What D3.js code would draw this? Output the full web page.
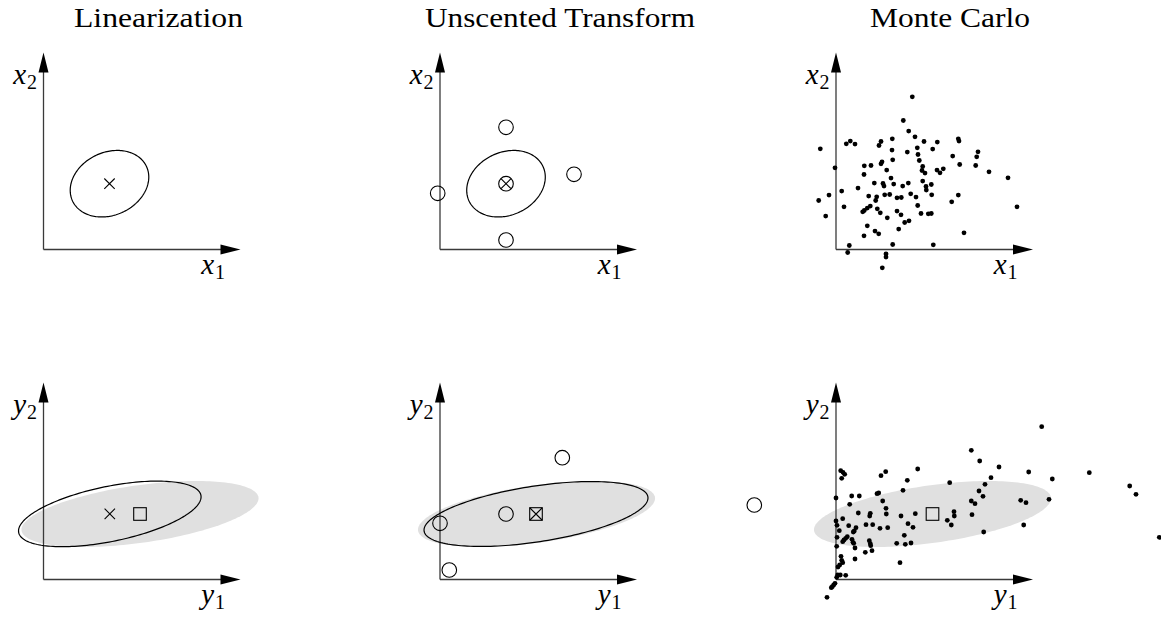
<!DOCTYPE html>
<html>
<head>
<meta charset="utf-8">
<script src="https://cdn.jsdelivr.net/npm/d3@7"></script>
<style>
  html, body { margin: 0; padding: 0; background: #fff; }
  svg { display: block; }
</style>
</head>
<body>
<svg id="fig" width="1161" height="617"></svg>
<script>
// ---- figure content -------------------------------------------------------
const titles = ["Linearization", "Unscented Transform", "Monte Carlo"];
const inputLabels = [["x", "1"], ["x", "2"]];
const outputLabels = [["y", "1"], ["y", "2"]];

// prior distribution of x: mean and covariance ellipse [semi-axis 1, semi-axis 2, rotation in degrees]
const priorMean = [66, 65.8];
const priorEllipse = [40.8, 31.4, 25];

// sigma points before and after the transform (first entry = central point)
const sigmaIn = [[66, 65.8], [66, 122.2], [134, 75.2], [-2.3, 56.2], [66, 9.5]];
const sigmaOut = [[66, 65.5], [122.3, 121.8], [314.3, 74.5], [0, 56.2], [9.3, 9.5]];

// propagated estimates of y
const linMean = [66.3, 65.6];
const linEllipse = [93, 27.5, 11.6];
const utMean = [96, 65.5];
const utEllipse = [113.2, 27.9, 8.7];
const mcMean = [96.5, 65.5];
const mcEllipse = [119.6, 28.8, 8.0];

// Monte Carlo samples of x
const mcSamplesIn = [
  [76.3,152.7],[67.3,129],[72.7,118.4],[79,112.7],[56.3,110.7],[45,108],[43,104],[14.3,108.4],[10.3,105.7],[19,105.4],
  [-15.7,100.7],[56,99.4],[71.3,97.4],[81.3,101.7],[82,95],[83.3,89],[56.7,89.7],[46,87.7],[45,85.7],[28.3,83.7],
  [35,84],[-1,81.7],[50.7,79.4],[28,75],[55,71.4],[86.7,68.4],[38.3,66.4],[47,66],[48,63.4],[57.7,65.4],
  [66.7,63.4],[72.3,66.4],[22,61.4],[5.7,58.4],[-7,54.4],[-17.3,49],[32.7,53.4],[40.7,52.7],[48.7,54.7],[53.7,55],
  [39.7,49],[61,51.7],[65.3,52],[74.7,55.7],[80,52.4],[8,42.7],[34.3,43.4],[31.3,41.4],[28.3,39],[26.7,37.7],
  [41.3,40.7],[44.3,36.7],[61,38.4],[65,34.7],[81.7,44],[85,36],[-10.3,33.4],[51.3,31.7],[73,28.7],[68.7,27],
  [31.3,23.7],[62.7,20.4],[39,18.4],[42.7,15.7],[28,13.7],[56.7,5],[13.3,4],[11.7,-3],[50,-4.3],[50,-7.6],
  [46.3,-18.3],[88,108],[101.3,107.4],[96.7,100.4],[122.3,110.7],[123,108.4],[142,97.7],[140.7,92.7],[116.7,93.4],[123.7,85],
  [139.7,84],[86.7,83],[86,79],[89,76.4],[101,79.4],[104,76.7],[107.3,80.7],[153,77.7],[172,71.7],[90,63],
  [95.3,65],[90.3,59.4],[95.7,54.7],[122.3,54.4],[115.7,47.7],[92.3,35.7],[95.3,36],[181,42.7],[128,16.7],[97.3,4.7]
];

// the same samples after the transform
const mcSamplesOut = [
  [49.7,107.8],[45,103.8],[81.7,110.5],[4.7,108.8],[7,107.2],[8.7,105.2],[5.7,101.2],[71.3,99.2],[67,89.2],[42.7,86.5],
  [41,85.8],[15.7,83.5],[23.3,83.5],[0,81.5],[46.7,78.5],[13.7,75.2],[50,71.2],[50.3,65.5],[22.3,66.5],[34.3,66.2],
  [33.7,63.5],[65,63.5],[79.3,65.8],[6.7,60.8],[0,58.5],[1,54.2],[72,55.8],[77,52.2],[30,54.8],[36.7,54.8],
  [12.7,53.8],[20,51.8],[18.3,48.5],[17.3,47.5],[44,51.2],[51.7,51.8],[3.3,48.8],[68.3,44.2],[1,42.2],[11.3,42.8],
  [9.7,41.2],[8,39.5],[6.7,37.8],[16,40.2],[17,37.2],[17.7,36.2],[33.3,38.8],[34.3,35.8],[34.7,33.8],[60.7,36.2],
  [69.3,35.2],[75,36.5],[0.7,33.2],[19,31.5],[29.3,27.2],[36,28.8],[5,23.2],[5.7,19.2],[6.7,16.8],[3.7,14.5],
  [2,12.5],[19,20.5],[64,16.8],[1.7,4.5],[4.3,4.5],[9.7,4.2],[0.7,2.2],[-1,-3.8],[-2.3,-5.5],[-3.7,-7.2],
  [-4.7,-8.2],[-9,-17.8],
  [205.7,152.8],[135.3,129.2],[143.7,118.5],[163,112.5],[192.7,107.5],[155,101.8],[149,95.2],[113.7,96.8],[143,88.5],[147,83.2],
  [135.3,78.5],[139,75.8],[184.7,79.2],[190,76.8],[136,64.8],[118,67.8],[118.3,63.5],[111.3,59.2],[115.3,54.5],[187.7,54.5],
  [147.7,47.5],
  [216.3,100.5],[213,80.2],[253.3,106.8],[293.7,93.5],[300,85.2],[323.3,42.2]
];

// ---- layout ---------------------------------------------------------------
const axisExtent = 197;              // data units covered by each axis arrow
const panelLeft = [43.5, 440, 836];  // x of each column's origin
const rowBase = [249.5, 579.5];      // y of each row's origin
const titleCenter = [158.5, 560, 950];
const titleWidth = [169, 270, 160];

const serif = "'Liberation Serif', 'Times New Roman', serif";
const ink = "#000";
const axisInk = "#3a3a3a";
const shade = "#e0e0e0";

const svg = d3.select("#fig");

function makeScales(col, row) {
  const ox = panelLeft[col], oy = rowBase[row];
  return {
    x: d3.scaleLinear().domain([0, axisExtent]).range([ox, ox + axisExtent]),
    y: d3.scaleLinear().domain([0, axisExtent]).range([oy, oy - axisExtent])
  };
}

function drawAxes(g, s, labels) {
  const x0 = s.x(0), y0 = s.y(0);
  const xTip = s.x(axisExtent), yTip = s.y(axisExtent);
  const head = 20, half = 5;
  g.append("line").attr("x1", x0).attr("y1", y0).attr("x2", xTip - 12).attr("y2", y0)
    .attr("stroke", axisInk).attr("stroke-width", 1.3);
  g.append("line").attr("x1", x0).attr("y1", y0).attr("x2", x0).attr("y2", yTip + 12)
    .attr("stroke", axisInk).attr("stroke-width", 1.3);
  g.append("path")
    .attr("d", `M${xTip},${y0}L${xTip - head},${y0 - half}L${xTip - head},${y0 + half}Z`)
    .attr("fill", ink);
  g.append("path")
    .attr("d", `M${x0},${yTip}L${x0 - half},${yTip + head}L${x0 + half},${yTip + head}Z`)
    .attr("fill", ink);
  mathLabel(g, labels[0], x0 + 181.5, y0 + 24);
  mathLabel(g, labels[1], x0 - 6.5, y0 - 166);
}

function mathLabel(g, parts, x, y) {
  const t = g.append("text").attr("x", x).attr("y", y)
    .attr("text-anchor", "end").attr("font-family", serif).attr("font-size", 29).attr("fill", ink);
  t.append("tspan").attr("font-style", "italic").text(parts[0]);
  t.append("tspan").attr("font-size", 20).attr("dy", 5).attr("dx", 1).text(parts[1]);
}

// covariance ellipse outline as a polygon in data space, projected by the scales
function ellipsePath(s, center, shape) {
  const [a, b, deg] = shape;
  const th = deg * Math.PI / 180;
  const pts = d3.range(0, 360, 2).map(t => {
    const r = t * Math.PI / 180;
    const u = a * Math.cos(r), v = b * Math.sin(r);
    return [center[0] + u * Math.cos(th) - v * Math.sin(th),
            center[1] + u * Math.sin(th) + v * Math.cos(th)];
  });
  return d3.line().x(d => s.x(d[0])).y(d => s.y(d[1])).curve(d3.curveLinearClosed)(pts);
}

function cross(g, s, p, h) {
  const cx = s.x(p[0]), cy = s.y(p[1]);
  g.append("path")
    .attr("d", `M${cx - h},${cy - h}L${cx + h},${cy + h}M${cx - h},${cy + h}L${cx + h},${cy - h}`)
    .attr("stroke", ink).attr("stroke-width", 1.1).attr("fill", "none");
}
function ring(g, s, p) {
  g.append("circle").attr("cx", s.x(p[0])).attr("cy", s.y(p[1])).attr("r", 7.3)
    .attr("fill", "none").attr("stroke", ink).attr("stroke-width", 1.1);
}
function square(g, s, p) {
  const h = 6.3;
  g.append("rect").attr("x", s.x(p[0]) - h).attr("y", s.y(p[1]) - h)
    .attr("width", 2 * h).attr("height", 2 * h)
    .attr("fill", "none").attr("stroke", ink).attr("stroke-width", 1.1);
}
function outline(g, s, c, e, fill) {
  g.append("path").attr("d", ellipsePath(s, c, e))
    .attr("fill", fill ? shade : "none")
    .attr("stroke", fill ? "none" : ink)
    .attr("stroke-width", 1.2);
}
function dots(g, s, data) {
  g.selectAll("circle.sample").data(data).join("circle").attr("class", "sample")
    .attr("cx", d => s.x(d[0])).attr("cy", d => s.y(d[1])).attr("r", 2.4).attr("fill", ink);
}

// ---- titles ---------------------------------------------------------------
svg.selectAll("text.title").data(titles).join("text").attr("class", "title")
  .attr("x", (d, i) => titleCenter[i]).attr("y", 27)
  .attr("text-anchor", "middle").attr("font-family", serif).attr("font-size", 27)
  .attr("textLength", (d, i) => titleWidth[i]).attr("lengthAdjust", "spacingAndGlyphs")
  .attr("fill", ink).text(d => d);

// ---- Linearization ---------------------------------------------------------
{
  const s = makeScales(0, 0), g = svg.append("g");
  drawAxes(g, s, inputLabels);
  outline(g, s, priorMean, priorEllipse, false);
  cross(g, s, priorMean, 5.2);
}
{
  const s = makeScales(0, 1), g = svg.append("g");
  outline(g, s, mcMean, mcEllipse, true);
  drawAxes(g, s, outputLabels);
  outline(g, s, linMean, linEllipse, false);
  cross(g, s, linMean, 5.2);
  square(g, s, mcMean);
}

// ---- Unscented transform -----------------------------------------------------
{
  const s = makeScales(1, 0), g = svg.append("g");
  drawAxes(g, s, inputLabels);
  outline(g, s, priorMean, priorEllipse, false);
  sigmaIn.forEach(p => ring(g, s, p));
  cross(g, s, priorMean, 5.0);
}
{
  const s = makeScales(1, 1), g = svg.append("g");
  outline(g, s, mcMean, mcEllipse, true);
  drawAxes(g, s, outputLabels);
  outline(g, s, utMean, utEllipse, false);
  sigmaOut.forEach(p => ring(g, s, p));
  square(g, s, utMean);
  cross(g, s, utMean, 6.0);
}

// ---- Monte Carlo ---------------------------------------------------------------
{
  const s = makeScales(2, 0), g = svg.append("g");
  drawAxes(g, s, inputLabels);
  dots(g, s, mcSamplesIn);
}
{
  const s = makeScales(2, 1), g = svg.append("g");
  outline(g, s, mcMean, mcEllipse, true);
  drawAxes(g, s, outputLabels);
  dots(g, s, mcSamplesOut);
  square(g, s, mcMean);
}
</script>
</body>
</html>
